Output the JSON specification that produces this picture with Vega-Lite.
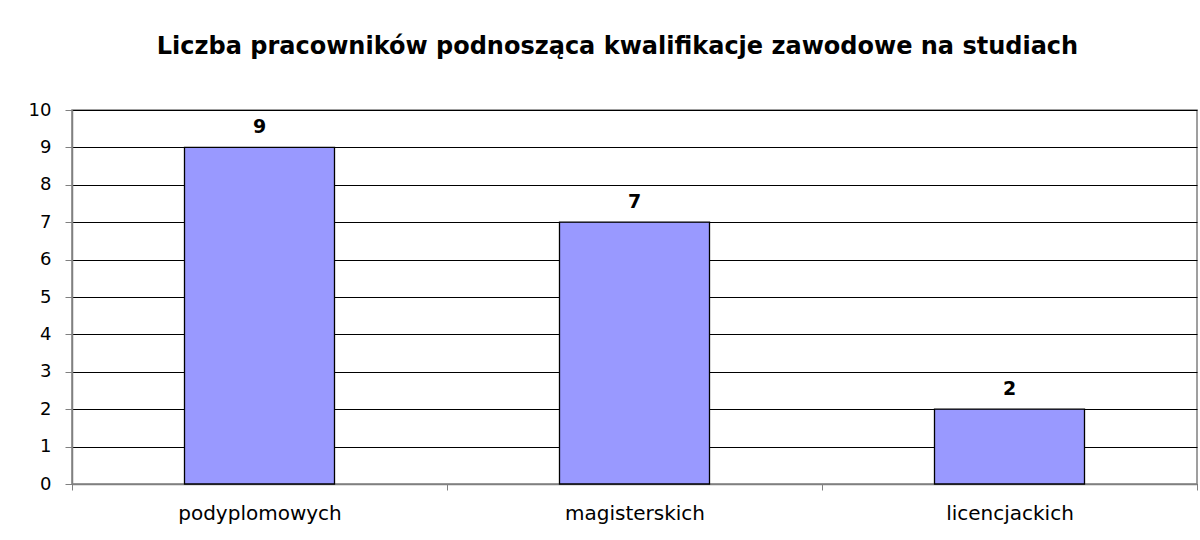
{
  "$schema": "https://vega.github.io/schema/vega-lite/v6.json",
  "autosize": {"type": "none"},
  "width": 1125,
  "height": 374,
  "padding": {"left": 72, "top": 110, "right": 3, "bottom": 56},
  "background": "white",
  "title": {
    "text": "Liczba pracowników podnosząca kwalifikacje zawodowe na studiach",
    "font": "DejaVu Sans",
    "fontSize": 24,
    "fontWeight": "bold",
    "color": "black",
    "anchor": "middle",
    "frame": "group",
    "dx": -17,
    "offset": 42
  },
  "data": {
    "values": [
      {"kategoria": "podyplomowych", "liczba": 9},
      {"kategoria": "magisterskich", "liczba": 7},
      {"kategoria": "licencjackich", "liczba": 2}
    ]
  },
  "config": {
    "view": {"stroke": "#808080", "strokeWidth": 1.5},
    "font": "DejaVu Sans"
  },
  "encoding": {
    "x": {
      "field": "kategoria",
      "type": "nominal",
      "sort": null,
      "scale": {"paddingInner": 0, "paddingOuter": 0},
      "axis": {
        "title": null,
        "labelAngle": 0,
        "labelFont": "DejaVu Sans",
        "labelFontSize": 20,
        "labelColor": "black",
        "labelPadding": 13,
        "tickBand": "extent",
        "tickSize": 6,
        "tickColor": "#808080",
        "domainColor": "#808080",
        "domainWidth": 1.5,
        "grid": false
      }
    },
    "y": {
      "field": "liczba",
      "type": "quantitative",
      "scale": {"domain": [0, 10], "nice": false},
      "axis": {
        "title": null,
        "values": [0, 1, 2, 3, 4, 5, 6, 7, 8, 9, 10],
        "labelOverlap": false,
        "labelFont": "DejaVu Sans",
        "labelFontSize": 18,
        "labelColor": "black",
        "labelPadding": 14,
        "tickSize": 7,
        "tickColor": "#808080",
        "domainColor": "#808080",
        "domainWidth": 1.5,
        "grid": true,
        "gridColor": "black",
        "gridWidth": 1,
        "gridOpacity": 1
      }
    }
  },
  "layer": [
    {
      "mark": {"type": "bar", "width": {"band": 0.4}, "fill": "#9999FF", "stroke": "black", "strokeWidth": 1.3}
    },
    {
      "mark": {"type": "text", "fontWeight": "bold", "fontSize": 19, "font": "DejaVu Sans", "color": "black", "dy": -14, "baseline": "alphabetic"},
      "encoding": {"text": {"field": "liczba", "type": "quantitative"}}
    }
  ]
}
